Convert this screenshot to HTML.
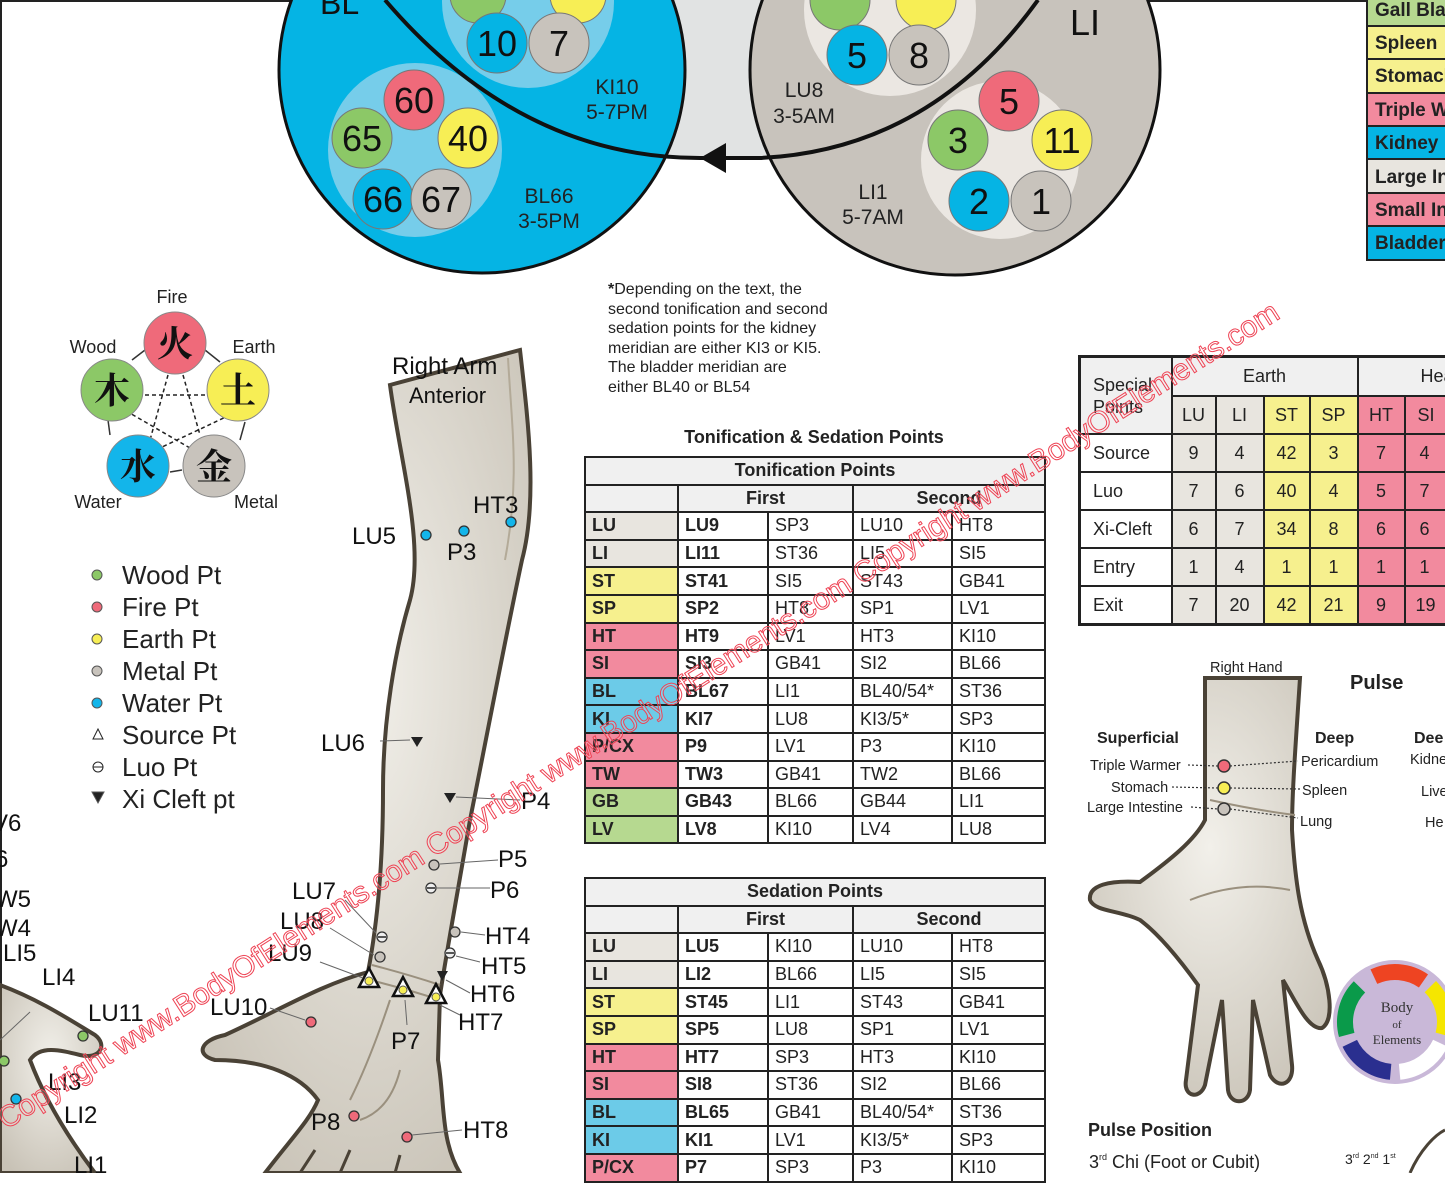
<!DOCTYPE html>
<html><head><meta charset="utf-8">
<style>
html,body{margin:0;padding:0;background:#fff;}
body{width:1445px;height:1173px;position:relative;overflow:hidden;font-family:"Liberation Sans","Noto Sans CJK SC",sans-serif;}
svg{position:absolute;left:0;top:0;}
table{position:absolute;border-collapse:collapse;font-family:"Liberation Sans",sans-serif;table-layout:fixed;}
td{border:2px solid #222;padding:0 0 0 6px;font-size:18px;color:#222;white-space:nowrap;overflow:hidden;}
.t td{height:25.6px;}
.hd td{background:#f0f0f0;font-weight:bold;text-align:center;padding:0;}
.b{font-weight:bold;}
.g{background:#e8e5df}.y{background:#f6f08e}.p{background:#f28a9e}.bl{background:#6ccbe8}.gr{background:#b6d990}
.s td{height:36px;text-align:center;padding:0;}
</style></head><body>
<svg width="1445" height="1173" viewBox="0 0 1445 1173" font-family="Liberation Sans, sans-serif">
<defs>
<radialGradient id="skin" cx="50%" cy="40%" r="70%"><stop offset="0" stop-color="#f2f0ea"/><stop offset="1" stop-color="#c8c2b6"/></radialGradient>
</defs>
<rect x="0" y="0" width="1445" height="2" fill="#222"/>
<rect x="0" y="0" width="2" height="1173" fill="#222"/>
<path d="M385,0 Q520,158 700,158 L760,158 Q930,150 1038,0 Z" fill="#e1e3e3"/>
<circle cx="482" cy="70" r="203" fill="#05b4e4" stroke="#111" stroke-width="3"/>
<circle cx="955" cy="70" r="205" fill="#c8c3bc" stroke="#111" stroke-width="3"/>
<circle cx="528" cy="2" r="86" fill="#76cdea"/>
<circle cx="415" cy="150" r="87" fill="#76cdea"/>
<circle cx="890" cy="10" r="86" fill="#ebe7e2"/>
<circle cx="1000" cy="160" r="79" fill="#ebe7e2"/>
<path d="M385,0 Q520,158 700,158 L760,158 Q930,150 1038,0" fill="none" stroke="#111" stroke-width="4"/>
<polygon points="700,158 726,143 726,173" fill="#111"/>
<g stroke="#777" stroke-width="1">
<circle cx="478" cy="-5" r="28" fill="#8cc867"/><circle cx="578" cy="-5" r="28" fill="#f7ee55"/>
<circle cx="497" cy="43" r="30" fill="#05b4e4"/><circle cx="559" cy="43" r="30" fill="#c8c3bc"/>
<circle cx="414" cy="100" r="30" fill="#ef6a7a"/><circle cx="362" cy="138" r="30" fill="#8cc867"/><circle cx="468" cy="138" r="30" fill="#f7ee55"/>
<circle cx="383" cy="199" r="30" fill="#05b4e4"/><circle cx="441" cy="199" r="30" fill="#c8c3bc"/>
<circle cx="840" cy="0" r="30" fill="#8cc867"/><circle cx="926" cy="0" r="30" fill="#f7ee55"/>
<circle cx="857" cy="55" r="30" fill="#05b4e4"/><circle cx="919" cy="55" r="30" fill="#c8c3bc"/>
<circle cx="1009" cy="101" r="30" fill="#ef6a7a"/><circle cx="958" cy="140" r="30" fill="#8cc867"/><circle cx="1062" cy="140" r="30" fill="#f7ee55"/>
<circle cx="979" cy="201" r="30" fill="#05b4e4"/><circle cx="1041" cy="201" r="30" fill="#c8c3bc"/>
</g>
<g font-size="36" text-anchor="middle" fill="#111">
<text x="497" y="56">10</text><text x="559" y="56">7</text>
<text x="414" y="113">60</text><text x="362" y="151">65</text><text x="468" y="151">40</text>
<text x="383" y="212">66</text><text x="441" y="212">67</text>
<text x="857" y="68">5</text><text x="919" y="68">8</text>
<text x="1009" y="114">5</text><text x="958" y="153">3</text><text x="1062" y="153">11</text>
<text x="979" y="214">2</text><text x="1041" y="214">1</text>
</g>
<g font-size="21" text-anchor="middle" fill="#222">
<text x="617" y="94">KI10</text><text x="617" y="119">5-7PM</text>
<text x="549" y="203">BL66</text><text x="549" y="228">3-5PM</text>
<text x="804" y="97">LU8</text><text x="804" y="123">3-5AM</text>
<text x="873" y="199">LI1</text><text x="873" y="224">5-7AM</text>
</g>
<text x="320" y="14" font-size="32" fill="#111">BL</text>
<text x="1070" y="35" font-size="36" fill="#111">LI</text>
<g stroke="#222" stroke-width="2">
<rect x="1367" y="-2" width="80" height="28" fill="#b6d990"/>
<rect x="1367" y="26" width="80" height="33" fill="#f6f08e"/>
<rect x="1367" y="59" width="80" height="34" fill="#f6f08e"/>
<rect x="1367" y="93" width="80" height="33" fill="#f28a9e"/>
<rect x="1367" y="126" width="80" height="33" fill="#05b4e4"/>
<rect x="1367" y="159" width="80" height="34" fill="#e8e5df"/>
<rect x="1367" y="193" width="80" height="33" fill="#f28a9e"/>
<rect x="1367" y="226" width="80" height="34" fill="#05b4e4"/>
</g>
<g font-size="19" font-weight="bold" fill="#222">
<text x="1375" y="16">Gall Bla</text><text x="1375" y="49">Spleen</text><text x="1375" y="82">Stomach</text>
<text x="1375" y="116">Triple W</text><text x="1375" y="149">Kidney</text><text x="1375" y="183">Large In</text>
<text x="1375" y="216">Small In</text><text x="1375" y="249">Bladder</text>
</g>
<g font-size="16" fill="#222">
<text x="608" y="294"><tspan font-weight="bold">*</tspan>Depending on the text, the</text>
<text x="608" y="314">second tonification and second</text>
<text x="608" y="333">sedation points for the kidney</text>
<text x="608" y="353">meridian are either KI3 or KI5.</text>
<text x="608" y="372">The bladder meridian are</text>
<text x="608" y="392">either BL40 or BL54</text>
</g>
<text x="814" y="443" font-size="18" font-weight="bold" text-anchor="middle" fill="#222">Tonification &amp; Sedation Points</text>
<g stroke="#222" stroke-width="1.5" stroke-dasharray="4,3" fill="none">
<line x1="145" y1="395" x2="205" y2="395"/><line x1="168" y1="375" x2="150" y2="440"/>
<line x1="183" y1="375" x2="200" y2="435"/><line x1="230" y1="415" x2="160" y2="448"/>
<line x1="190" y1="448" x2="128" y2="412"/>
</g>
<g stroke="#333" stroke-width="1.5" fill="none">
<path d="M132,360 L145,350"/><path d="M205,350 L220,362"/><path d="M245,422 L240,440"/><path d="M182,470 L170,472"/><path d="M110,435 L108,420"/>
</g>
<g stroke="#888" stroke-width="1">
<circle cx="175" cy="343" r="31" fill="#ef6a7a"/><circle cx="238" cy="390" r="31" fill="#f7ee55"/>
<circle cx="214" cy="466" r="31" fill="#c8c3bc"/><circle cx="138" cy="466" r="31" fill="#13b5ea"/>
<circle cx="112" cy="390" r="31" fill="#8cc867"/>
</g>
<g font-family="Noto Serif CJK SC, Noto Sans CJK SC, sans-serif" font-size="36" font-weight="bold" text-anchor="middle" fill="#111">
<text x="175" y="356">火</text><text x="238" y="403">土</text><text x="214" y="479">金</text><text x="138" y="479">水</text><text x="112" y="403">木</text>
</g>
<g font-size="18" fill="#222" text-anchor="middle">
<text x="172" y="303">Fire</text><text x="254" y="353">Earth</text><text x="93" y="353">Wood</text>
<text x="98" y="508">Water</text><text x="256" y="508">Metal</text>
</g>
<g stroke="#555" stroke-width="1">
<circle cx="97" cy="575" r="5" fill="#8cc867"/><circle cx="97" cy="607" r="5" fill="#ef6a7a"/>
<circle cx="97" cy="639" r="5" fill="#f7ee55"/><circle cx="97" cy="671" r="5" fill="#c8c3bc"/>
<circle cx="97" cy="703" r="5" fill="#13b5ea"/>
<polygon points="98,729 93,739 103,739" fill="#fff" stroke="#222"/>
<circle cx="98" cy="767" r="5" fill="#fff" stroke="#222"/><line x1="93" y1="767" x2="103" y2="767" stroke="#222"/>
<polygon points="92,792 104,792 98,803" fill="#222"/>
</g>
<g font-size="26" fill="#222">
<text x="122" y="584">Wood Pt</text><text x="122" y="616">Fire Pt</text><text x="122" y="648">Earth Pt</text>
<text x="122" y="680">Metal Pt</text><text x="122" y="712">Water Pt</text><text x="122" y="744">Source Pt</text>
<text x="122" y="776">Luo Pt</text><text x="122" y="808">Xi Cleft pt</text>
</g>
<path d="M390,385 L520,350 C528,420 538,500 522,560 C505,640 488,730 470,820 C458,890 447,950 440,995 L438,1060 C445,1100 440,1140 460,1173 L265,1173 C290,1140 310,1120 318,1100 C300,1075 265,1060 215,1060 C195,1055 200,1040 225,1035 C280,1010 320,985 368,972 C378,920 383,860 383,790 C383,720 395,650 410,600 C425,545 400,460 390,385 Z" fill="url(#skin)" stroke="#4a4236" stroke-width="4"/>
<path d="M508,358 C512,430 520,480 505,560" fill="none" stroke="#b3aa98" stroke-width="2"/>
<path d="M372,965 Q410,975 440,985 M370,980 Q410,990 440,1000 M390,1000 Q370,1060 350,1100 M400,1070 Q390,1110 360,1120" fill="none" stroke="#9a907e" stroke-width="2"/>
<path d="M300,1173 L315,1150 M340,1173 L350,1150 M395,1173 L400,1155" stroke="#4a4236" stroke-width="3"/>
<path d="M0,985 C40,1000 70,1020 95,1035 C108,1045 100,1060 80,1055 C60,1050 40,1045 30,1060 C45,1100 70,1140 95,1173 L0,1173 Z" fill="url(#skin)" stroke="#4a4236" stroke-width="4"/>
<path d="M1205,678 L1300,678 C1296,740 1292,790 1292,830 C1295,880 1300,920 1318,960 C1330,985 1335,1020 1322,1028 C1308,1030 1295,1000 1283,980 L1292,1065 C1294,1085 1278,1090 1270,1075 L1253,1000 L1250,1090 C1248,1105 1230,1105 1228,1090 L1222,1000 L1205,1085 C1200,1100 1183,1097 1186,1080 L1198,985 C1180,960 1160,935 1140,920 C1120,910 1095,912 1090,900 C1088,885 1110,880 1140,882 C1170,860 1195,840 1205,820 Z" fill="url(#skin)" stroke="#4a4236" stroke-width="4"/>
<path d="M1210,800 Q1255,810 1295,815 M1190,900 Q1240,880 1290,890" fill="none" stroke="#9a907e" stroke-width="2"/>
<g stroke="#333" stroke-width="1.2" stroke-dasharray="2,2" fill="none">
<line x1="1188" y1="765" x2="1218" y2="766"/><line x1="1230" y1="766" x2="1298" y2="761"/>
<line x1="1172" y1="787" x2="1218" y2="788"/><line x1="1230" y1="788" x2="1300" y2="789"/>
<line x1="1191" y1="807" x2="1218" y2="809"/><line x1="1230" y1="809" x2="1298" y2="818"/>
</g>
<g stroke="#333" stroke-width="1.5">
<circle cx="1224" cy="766" r="6" fill="#ef6a7a"/><circle cx="1224" cy="788" r="6" fill="#f7ee55"/><circle cx="1224" cy="809" r="6" fill="#c8c3bc"/>
</g>
<g font-size="14.5" fill="#222">
<text x="1210" y="672">Right Hand</text>
<text x="1090" y="770">Triple Warmer</text><text x="1111" y="792">Stomach</text><text x="1087" y="812">Large Intestine</text>
<text x="1301" y="766">Pericardium</text><text x="1302" y="795">Spleen</text><text x="1300" y="826">Lung</text>
<text x="1410" y="764">Kidne</text><text x="1421" y="796">Live</text><text x="1425" y="827">He</text>
</g>
<g font-weight="bold" fill="#222">
<text x="1350" y="689" font-size="20">Pulse</text>
<text x="1097" y="743" font-size="16">Superficial</text><text x="1315" y="743" font-size="16">Deep</text><text x="1414" y="743" font-size="16">Dee</text>
<text x="1088" y="1136" font-size="18">Pulse Position</text>
</g>
<text x="1089" y="1168" font-size="18" fill="#222">3<tspan font-size="9" dy="-8">rd</tspan><tspan dy="8"> Chi (Foot or Cubit)</tspan></text>
<text x="1345" y="1164" font-size="14" fill="#222">3<tspan font-size="7" dy="-6">rd</tspan><tspan dy="6"> 2</tspan><tspan font-size="7" dy="-6">nd</tspan><tspan dy="6"> 1</tspan><tspan font-size="7" dy="-6">st</tspan></text>
<path d="M1410,1173 C1420,1150 1435,1135 1445,1130" fill="none" stroke="#4a4236" stroke-width="3"/>
<circle cx="1395" cy="1022" r="62" fill="#c9b8d8"/>
<circle cx="1395" cy="1022" r="50" fill="none" stroke="#e42" stroke-width="16" stroke-dasharray="52,262" transform="rotate(-115 1395 1022)"/>
<circle cx="1395" cy="1022" r="50" fill="none" stroke="#f5e600" stroke-width="16" stroke-dasharray="52,262" transform="rotate(-45 1395 1022)"/>
<circle cx="1395" cy="1022" r="50" fill="none" stroke="#fff" stroke-width="16" stroke-dasharray="52,262" transform="rotate(25 1395 1022)"/>
<circle cx="1395" cy="1022" r="50" fill="none" stroke="#2a2f8f" stroke-width="16" stroke-dasharray="52,262" transform="rotate(95 1395 1022)"/>
<circle cx="1395" cy="1022" r="50" fill="none" stroke="#0a9a4a" stroke-width="16" stroke-dasharray="52,262" transform="rotate(165 1395 1022)"/>
<g font-family="Liberation Serif, serif" fill="#333" text-anchor="middle"><text x="1397" y="1012" font-size="15">Body</text><text x="1397" y="1028" font-size="11">of</text><text x="1397" y="1044" font-size="13">Elements</text></g>
<g stroke="#333" stroke-width="1.3">
<circle cx="426" cy="535" r="5" fill="#13b5ea"/><circle cx="464" cy="531" r="5" fill="#13b5ea"/><circle cx="511" cy="522" r="5" fill="#13b5ea"/>
<circle cx="434" cy="865" r="5" fill="#c8c3bc"/><circle cx="455" cy="932" r="5" fill="#c8c3bc"/><circle cx="380" cy="957" r="5" fill="#c8c3bc"/>
<circle cx="431" cy="888" r="5" fill="#eee"/><circle cx="382" cy="937" r="5" fill="#eee"/><circle cx="450" cy="953" r="5" fill="#eee"/>
<circle cx="311" cy="1022" r="5" fill="#ef6a7a"/><circle cx="354" cy="1116" r="5" fill="#ef6a7a"/><circle cx="407" cy="1137" r="5" fill="#ef6a7a"/>
<circle cx="83" cy="1036" r="5" fill="#8cc867"/><circle cx="4" cy="1061" r="5" fill="#8cc867"/><circle cx="16" cy="1099" r="5" fill="#13b5ea"/>
</g>
<g stroke="#222" stroke-width="1.5"><line x1="427" y1="888" x2="435" y2="888"/><line x1="378" y1="937" x2="386" y2="937"/><line x1="446" y1="953" x2="454" y2="953"/></g>
<g fill="#222"><polygon points="411,737 423,737 417,747"/><polygon points="444,793 456,793 450,803"/><polygon points="437,971 448,971 442,981"/></g>
<g stroke="#111" stroke-width="2.5" fill="#fff">
<polygon points="369,968 359,987 379,987"/><polygon points="403,977 393,996 413,996"/><polygon points="436,984 426,1003 446,1003"/>
</g>
<g fill="#f7ee55" stroke="#555"><circle cx="369" cy="981" r="4"/><circle cx="403" cy="990" r="4"/><circle cx="436" cy="997" r="4"/></g>
<g stroke="#666" stroke-width="1" fill="none">
<line x1="380" y1="741" x2="410" y2="740"/><line x1="456" y1="797" x2="520" y2="800"/><line x1="440" y1="864" x2="498" y2="860"/>
<line x1="437" y1="888" x2="490" y2="888"/><line x1="345" y1="900" x2="376" y2="933"/><line x1="330" y1="928" x2="374" y2="955"/>
<line x1="320" y1="962" x2="363" y2="978"/><line x1="461" y1="932" x2="485" y2="935"/><line x1="456" y1="956" x2="480" y2="962"/>
<line x1="446" y1="980" x2="470" y2="993"/><line x1="440" y1="1005" x2="460" y2="1015"/><line x1="405" y1="1000" x2="407" y2="1025"/>
<line x1="270" y1="1008" x2="305" y2="1020"/><line x1="412" y1="1135" x2="462" y2="1130"/><line x1="30" y1="1012" x2="0" y2="1040"/>
</g>
<g font-size="24" fill="#111">
<text x="392" y="374">Right Arm</text><text x="409" y="403" font-size="22">Anterior</text>
<text x="352" y="544">LU5</text><text x="447" y="560">P3</text><text x="473" y="513">HT3</text>
<text x="321" y="751">LU6</text><text x="521" y="809">P4</text><text x="498" y="867">P5</text><text x="490" y="898">P6</text>
<text x="292" y="899">LU7</text><text x="280" y="929">LU8</text><text x="268" y="961">LU9</text>
<text x="485" y="944">HT4</text><text x="481" y="974">HT5</text><text x="470" y="1002">HT6</text><text x="458" y="1030">HT7</text>
<text x="210" y="1015">LU10</text><text x="391" y="1049">P7</text><text x="311" y="1130">P8</text><text x="463" y="1138">HT8</text>
<text x="88" y="1021">LU11</text><text x="42" y="985">LI4</text><text x="3" y="961">LI5</text><text x="-5" y="936">W4</text><text x="-5" y="907">W5</text>
<text x="-5" y="867">6</text><text x="-8" y="831">V6</text><text x="48" y="1090">LI3</text><text x="64" y="1123">LI2</text><text x="74" y="1173">LI1</text>
</g>
</svg>

<table class="t" style="left:584px;top:456px;width:460px;">
<colgroup><col style="width:93px"><col style="width:90px"><col style="width:85px"><col style="width:99px"><col style="width:93px"></colgroup>
<tr class="hd"><td colspan="5">Tonification Points</td></tr>
<tr class="hd"><td></td><td colspan="2">First</td><td colspan="2">Second</td></tr>
<tr><td class="g b">LU</td><td class="b">LU9</td><td>SP3</td><td>LU10</td><td>HT8</td></tr>
<tr><td class="g b">LI</td><td class="b">LI11</td><td>ST36</td><td>LI5</td><td>SI5</td></tr>
<tr><td class="y b">ST</td><td class="b">ST41</td><td>SI5</td><td>ST43</td><td>GB41</td></tr>
<tr><td class="y b">SP</td><td class="b">SP2</td><td>HT8</td><td>SP1</td><td>LV1</td></tr>
<tr><td class="p b">HT</td><td class="b">HT9</td><td>LV1</td><td>HT3</td><td>KI10</td></tr>
<tr><td class="p b">SI</td><td class="b">SI3</td><td>GB41</td><td>SI2</td><td>BL66</td></tr>
<tr><td class="bl b">BL</td><td class="b">BL67</td><td>LI1</td><td>BL40/54*</td><td>ST36</td></tr>
<tr><td class="bl b">KI</td><td class="b">KI7</td><td>LU8</td><td>KI3/5*</td><td>SP3</td></tr>
<tr><td class="p b">P/CX</td><td class="b">P9</td><td>LV1</td><td>P3</td><td>KI10</td></tr>
<tr><td class="p b">TW</td><td class="b">TW3</td><td>GB41</td><td>TW2</td><td>BL66</td></tr>
<tr><td class="gr b">GB</td><td class="b">GB43</td><td>BL66</td><td>GB44</td><td>LI1</td></tr>
<tr><td class="gr b">LV</td><td class="b">LV8</td><td>KI10</td><td>LV4</td><td>LU8</td></tr>
</table>

<table class="t" style="left:584px;top:877px;width:460px;">
<colgroup><col style="width:93px"><col style="width:90px"><col style="width:85px"><col style="width:99px"><col style="width:93px"></colgroup>
<tr class="hd"><td colspan="5">Sedation Points</td></tr>
<tr class="hd"><td></td><td colspan="2">First</td><td colspan="2">Second</td></tr>
<tr><td class="g b">LU</td><td class="b">LU5</td><td>KI10</td><td>LU10</td><td>HT8</td></tr>
<tr><td class="g b">LI</td><td class="b">LI2</td><td>BL66</td><td>LI5</td><td>SI5</td></tr>
<tr><td class="y b">ST</td><td class="b">ST45</td><td>LI1</td><td>ST43</td><td>GB41</td></tr>
<tr><td class="y b">SP</td><td class="b">SP5</td><td>LU8</td><td>SP1</td><td>LV1</td></tr>
<tr><td class="p b">HT</td><td class="b">HT7</td><td>SP3</td><td>HT3</td><td>KI10</td></tr>
<tr><td class="p b">SI</td><td class="b">SI8</td><td>ST36</td><td>SI2</td><td>BL66</td></tr>
<tr><td class="bl b">BL</td><td class="b">BL65</td><td>GB41</td><td>BL40/54*</td><td>ST36</td></tr>
<tr><td class="bl b">KI</td><td class="b">KI1</td><td>LV1</td><td>KI3/5*</td><td>SP3</td></tr>
<tr><td class="p b">P/CX</td><td class="b">P7</td><td>SP3</td><td>P3</td><td>KI10</td></tr>
</table>

<table class="s" style="left:1078px;top:355px;width:380px;border:3px solid #222;">
<colgroup><col style="width:92px"><col style="width:44px"><col style="width:48px"><col style="width:46px"><col style="width:48px"><col style="width:47px"><col style="width:55px"></colgroup>
<tr style="background:#f0f0f0"><td rowspan="2" style="text-align:left;padding-left:12px;white-space:normal;line-height:22px">Special Points</td><td colspan="4" style="height:37px">Earth</td><td colspan="2" style="text-align:left;padding-left:62px">Heart</td></tr>
<tr><td class="g">LU</td><td class="g">LI</td><td class="y">ST</td><td class="y">SP</td><td class="p">HT</td><td class="p" style="text-align:left;padding-left:12px">SI</td></tr>
<tr><td style="text-align:left;padding-left:12px">Source</td><td class="g">9</td><td class="g">4</td><td class="y">42</td><td class="y">3</td><td class="p">7</td><td class="p" style="text-align:left;padding-left:14px">4</td></tr>
<tr><td style="text-align:left;padding-left:12px">Luo</td><td class="g">7</td><td class="g">6</td><td class="y">40</td><td class="y">4</td><td class="p">5</td><td class="p" style="text-align:left;padding-left:14px">7</td></tr>
<tr><td style="text-align:left;padding-left:12px">Xi-Cleft</td><td class="g">6</td><td class="g">7</td><td class="y">34</td><td class="y">8</td><td class="p">6</td><td class="p" style="text-align:left;padding-left:14px">6</td></tr>
<tr><td style="text-align:left;padding-left:12px">Entry</td><td class="g">1</td><td class="g">4</td><td class="y">1</td><td class="y">1</td><td class="p">1</td><td class="p" style="text-align:left;padding-left:14px">1</td></tr>
<tr><td style="text-align:left;padding-left:12px">Exit</td><td class="g">7</td><td class="g">20</td><td class="y">42</td><td class="y">21</td><td class="p">9</td><td class="p" style="text-align:left;padding-left:10px">19</td></tr>
</table>

<svg width="1445" height="1173" style="pointer-events:none">
<text x="0" y="0" font-family="Liberation Sans, sans-serif" font-size="30" fill="rgba(255,255,255,0.15)" stroke="#ee4455" stroke-width="1" transform="translate(6,1130) rotate(-32.5)">Copyright www.BodyOfElements.com Copyright www.BodyOfElements.com Copyright www.BodyOfElements.com</text>
</svg>
</body></html>
